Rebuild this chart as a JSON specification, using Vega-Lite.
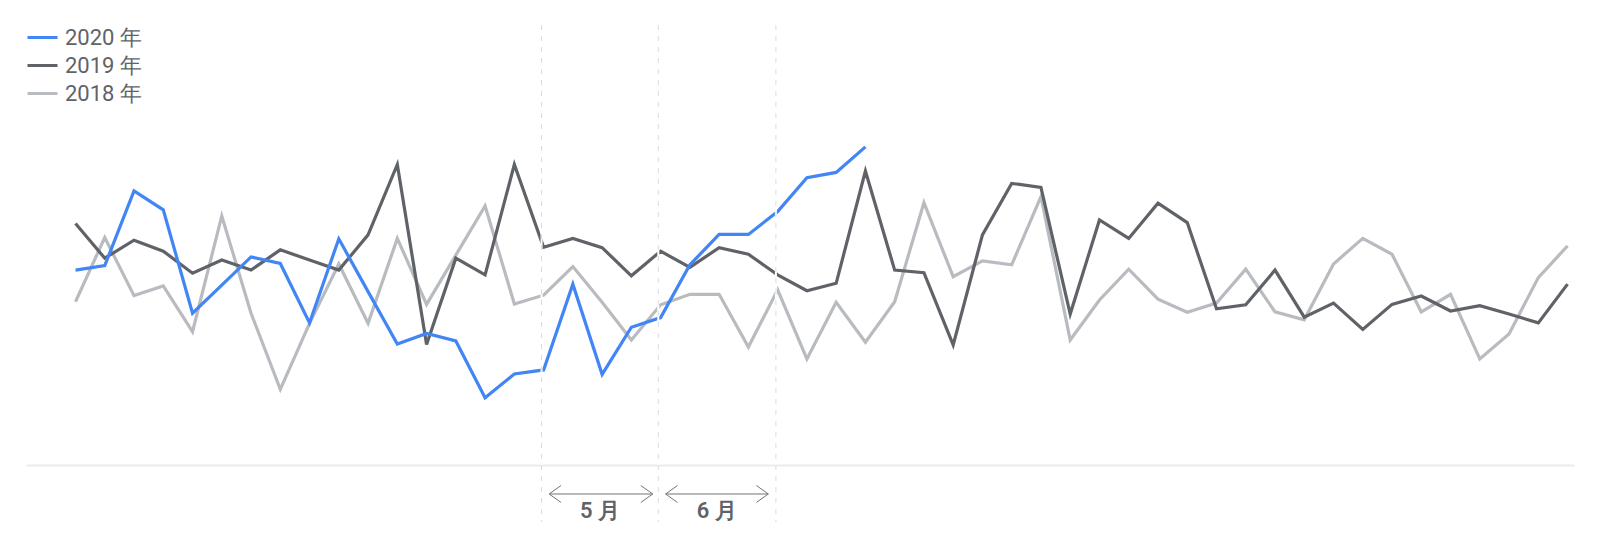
{
  "$schema": "https://vega.github.io/schema/vega-lite/v6.json",
  "width": 1548,
  "height": 440,
  "autosize": {"type": "none"},
  "padding": {"left": 26, "top": 25, "right": 26, "bottom": 75},
  "background": "white",
  "config": {"view": {"stroke": null}, "font": "Roboto"},
  "datasets": {
    "trends": [
      {"year": "2018 年", "week": 0, "value": 37.1},
      {"year": "2018 年", "week": 1, "value": 51.7},
      {"year": "2018 年", "week": 2, "value": 38.5},
      {"year": "2018 年", "week": 3, "value": 40.7},
      {"year": "2018 年", "week": 4, "value": 30.3},
      {"year": "2018 年", "week": 5, "value": 56.6},
      {"year": "2018 年", "week": 6, "value": 34.5},
      {"year": "2018 年", "week": 7, "value": 17.2},
      {"year": "2018 年", "week": 8, "value": 32.2},
      {"year": "2018 年", "week": 9, "value": 45.7},
      {"year": "2018 年", "week": 10, "value": 32.2},
      {"year": "2018 年", "week": 11, "value": 51.5},
      {"year": "2018 年", "week": 12, "value": 36.5},
      {"year": "2018 年", "week": 13, "value": 47.7},
      {"year": "2018 年", "week": 14, "value": 58.9},
      {"year": "2018 年", "week": 15, "value": 36.6},
      {"year": "2018 年", "week": 16, "value": 38.6},
      {"year": "2018 年", "week": 17, "value": 45.1},
      {"year": "2018 年", "week": 18, "value": 37.0},
      {"year": "2018 年", "week": 19, "value": 28.4},
      {"year": "2018 年", "week": 20, "value": 36.4},
      {"year": "2018 年", "week": 21, "value": 38.8},
      {"year": "2018 年", "week": 22, "value": 38.8},
      {"year": "2018 年", "week": 23, "value": 26.8},
      {"year": "2018 年", "week": 24, "value": 39.8},
      {"year": "2018 年", "week": 25, "value": 24.1},
      {"year": "2018 年", "week": 26, "value": 37.0},
      {"year": "2018 年", "week": 27, "value": 27.9},
      {"year": "2018 年", "week": 28, "value": 37.1},
      {"year": "2018 年", "week": 29, "value": 59.6},
      {"year": "2018 年", "week": 30, "value": 42.8},
      {"year": "2018 年", "week": 31, "value": 46.4},
      {"year": "2018 年", "week": 32, "value": 45.5},
      {"year": "2018 年", "week": 33, "value": 61.0},
      {"year": "2018 年", "week": 34, "value": 28.4},
      {"year": "2018 年", "week": 35, "value": 37.5},
      {"year": "2018 年", "week": 36, "value": 44.5},
      {"year": "2018 年", "week": 37, "value": 37.7},
      {"year": "2018 年", "week": 38, "value": 34.7},
      {"year": "2018 年", "week": 39, "value": 36.8},
      {"year": "2018 年", "week": 40, "value": 44.5},
      {"year": "2018 年", "week": 41, "value": 34.8},
      {"year": "2018 年", "week": 42, "value": 33.0},
      {"year": "2018 年", "week": 43, "value": 45.7},
      {"year": "2018 年", "week": 44, "value": 51.5},
      {"year": "2018 年", "week": 45, "value": 47.9},
      {"year": "2018 年", "week": 46, "value": 34.8},
      {"year": "2018 年", "week": 47, "value": 38.8},
      {"year": "2018 年", "week": 48, "value": 24.1},
      {"year": "2018 年", "week": 49, "value": 29.8},
      {"year": "2018 年", "week": 50, "value": 42.6},
      {"year": "2018 年", "week": 51, "value": 49.8},
      {"year": "2019 年", "week": 0, "value": 54.9},
      {"year": "2019 年", "week": 1, "value": 47.0},
      {"year": "2019 年", "week": 2, "value": 51.1},
      {"year": "2019 年", "week": 3, "value": 48.6},
      {"year": "2019 年", "week": 4, "value": 43.6},
      {"year": "2019 年", "week": 5, "value": 46.6},
      {"year": "2019 年", "week": 6, "value": 44.3},
      {"year": "2019 年", "week": 7, "value": 48.9},
      {"year": "2019 年", "week": 8, "value": 46.6},
      {"year": "2019 年", "week": 9, "value": 44.3},
      {"year": "2019 年", "week": 10, "value": 52.3},
      {"year": "2019 年", "week": 11, "value": 68.3},
      {"year": "2019 年", "week": 12, "value": 27.4},
      {"year": "2019 年", "week": 13, "value": 47.0},
      {"year": "2019 年", "week": 14, "value": 43.2},
      {"year": "2019 年", "week": 15, "value": 68.3},
      {"year": "2019 年", "week": 16, "value": 49.5},
      {"year": "2019 年", "week": 17, "value": 51.5},
      {"year": "2019 年", "week": 18, "value": 49.4},
      {"year": "2019 年", "week": 19, "value": 43.0},
      {"year": "2019 年", "week": 20, "value": 48.6},
      {"year": "2019 年", "week": 21, "value": 44.9},
      {"year": "2019 年", "week": 22, "value": 49.4},
      {"year": "2019 年", "week": 23, "value": 47.9},
      {"year": "2019 年", "week": 24, "value": 43.2},
      {"year": "2019 年", "week": 25, "value": 39.6},
      {"year": "2019 年", "week": 26, "value": 41.3},
      {"year": "2019 年", "week": 27, "value": 66.8},
      {"year": "2019 年", "week": 28, "value": 44.3},
      {"year": "2019 年", "week": 29, "value": 43.7},
      {"year": "2019 年", "week": 30, "value": 27.3},
      {"year": "2019 年", "week": 31, "value": 52.3},
      {"year": "2019 年", "week": 32, "value": 64.0},
      {"year": "2019 年", "week": 33, "value": 63.1},
      {"year": "2019 年", "week": 34, "value": 34.3},
      {"year": "2019 年", "week": 35, "value": 55.7},
      {"year": "2019 年", "week": 36, "value": 51.5},
      {"year": "2019 年", "week": 37, "value": 59.5},
      {"year": "2019 年", "week": 38, "value": 55.1},
      {"year": "2019 年", "week": 39, "value": 35.5},
      {"year": "2019 年", "week": 40, "value": 36.4},
      {"year": "2019 年", "week": 41, "value": 44.3},
      {"year": "2019 年", "week": 42, "value": 33.6},
      {"year": "2019 年", "week": 43, "value": 36.8},
      {"year": "2019 年", "week": 44, "value": 30.8},
      {"year": "2019 年", "week": 45, "value": 36.5},
      {"year": "2019 年", "week": 46, "value": 38.4},
      {"year": "2019 年", "week": 47, "value": 35.0},
      {"year": "2019 年", "week": 48, "value": 36.2},
      {"year": "2019 年", "week": 49, "value": 34.3},
      {"year": "2019 年", "week": 50, "value": 32.3},
      {"year": "2019 年", "week": 51, "value": 41.1},
      {"year": "2020 年", "week": 0, "value": 44.3},
      {"year": "2020 年", "week": 1, "value": 45.3},
      {"year": "2020 年", "week": 2, "value": 62.3},
      {"year": "2020 年", "week": 3, "value": 58.0},
      {"year": "2020 年", "week": 4, "value": 34.5},
      {"year": "2020 年", "week": 5, "value": 40.9},
      {"year": "2020 年", "week": 6, "value": 47.3},
      {"year": "2020 年", "week": 7, "value": 45.8},
      {"year": "2020 年", "week": 8, "value": 32.3},
      {"year": "2020 年", "week": 9, "value": 51.4},
      {"year": "2020 年", "week": 10, "value": 39.4},
      {"year": "2020 年", "week": 11, "value": 27.5},
      {"year": "2020 年", "week": 12, "value": 29.9},
      {"year": "2020 年", "week": 13, "value": 28.2},
      {"year": "2020 年", "week": 14, "value": 15.3},
      {"year": "2020 年", "week": 15, "value": 20.7},
      {"year": "2020 年", "week": 16, "value": 21.6},
      {"year": "2020 年", "week": 17, "value": 41.1},
      {"year": "2020 年", "week": 18, "value": 20.6},
      {"year": "2020 年", "week": 19, "value": 31.3},
      {"year": "2020 年", "week": 20, "value": 33.5},
      {"year": "2020 年", "week": 21, "value": 45.5},
      {"year": "2020 年", "week": 22, "value": 52.4},
      {"year": "2020 年", "week": 23, "value": 52.4},
      {"year": "2020 年", "week": 24, "value": 57.6},
      {"year": "2020 年", "week": 25, "value": 65.3},
      {"year": "2020 年", "week": 26, "value": 66.5},
      {"year": "2020 年", "week": 27, "value": 72.3}
    ],
    "boundaries": [{"pos": 15.93}, {"pos": 19.92}, {"pos": 23.94}],
    "months": [
      {"month": "5 月", "arrowStart": 16.19, "arrowEnd": 19.73, "labelX": 17.93},
      {"month": "6 月", "arrowStart": 20.17, "arrowEnd": 23.68, "labelX": 21.92}
    ]
  },
  "layer": [
    {
      "data": {"name": "trends"},
      "mark": {"type": "line", "strokeWidth": 3.2},
      "encoding": {
        "x": {
          "field": "week",
          "type": "quantitative",
          "scale": {"domain": [-1.692, 51.22], "nice": false, "zero": false},
          "axis": {
            "title": null,
            "labels": false,
            "ticks": false,
            "grid": false,
            "domain": true,
            "domainColor": "#ebebeb",
            "domainWidth": 2
          }
        },
        "y": {
          "field": "value",
          "type": "quantitative",
          "scale": {"domain": [0, 100], "nice": false, "zero": false},
          "axis": null
        },
        "color": {
          "field": "year",
          "type": "nominal",
          "scale": {
            "domain": ["2020 年", "2019 年", "2018 年"],
            "range": ["#4285f4", "#5f6368", "#b8bbbf"]
          },
          "legend": {
            "title": null,
            "orient": "none",
            "legendX": 0,
            "legendY": -4,
            "padding": 0,
            "symbolType": "stroke",
            "symbolSize": 900,
            "symbolStrokeWidth": 3,
            "labelFontSize": 22,
            "labelFont": "Roboto",
            "labelColor": "#5f6368",
            "labelOffset": 6,
            "rowPadding": 0
          }
        }
      }
    },
    {
      "data": {"name": "boundaries"},
      "mark": {"type": "rule", "color": "white", "strokeWidth": 2},
      "encoding": {
        "x": {"field": "pos", "type": "quantitative"},
        "y": {"datum": 100},
        "y2": {"datum": 0}
      }
    },
    {
      "data": {"name": "boundaries"},
      "mark": {"type": "rule", "color": "#dadce0", "strokeWidth": 1, "strokeDash": [5, 6]},
      "encoding": {
        "x": {"field": "pos", "type": "quantitative"},
        "y": {"datum": 100},
        "y2": {"datum": -12.95}
      }
    },
    {
      "data": {"name": "months"},
      "mark": {"type": "rule", "color": "#70757a", "strokeWidth": 1},
      "encoding": {
        "x": {"field": "arrowStart", "type": "quantitative"},
        "x2": {"field": "arrowEnd"},
        "y": {"datum": -6.59}
      }
    },
    {
      "data": {"name": "months"},
      "mark": {"type": "point", "shape": "M1.4,-1L0,0L1.4,1", "size": 289, "filled": false, "stroke": "#70757a", "strokeWidth": 1, "opacity": 1},
      "encoding": {
        "x": {"field": "arrowStart", "type": "quantitative"},
        "y": {"datum": -6.59}
      }
    },
    {
      "data": {"name": "months"},
      "mark": {"type": "point", "shape": "M-1.4,-1L0,0L-1.4,1", "size": 289, "filled": false, "stroke": "#70757a", "strokeWidth": 1, "opacity": 1},
      "encoding": {
        "x": {"field": "arrowEnd", "type": "quantitative"},
        "y": {"datum": -6.59}
      }
    },
    {
      "data": {"name": "months"},
      "mark": {"type": "text", "fontSize": 22, "fontWeight": 600, "color": "#5f6368", "font": "Roboto", "baseline": "middle", "align": "center"},
      "encoding": {
        "x": {"field": "labelX", "type": "quantitative"},
        "y": {"datum": -10.45},
        "text": {"field": "month"}
      }
    }
  ]
}
